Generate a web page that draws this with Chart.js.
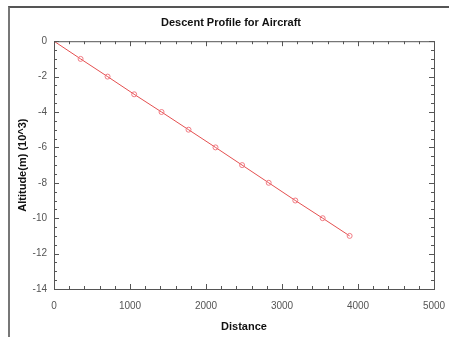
<!DOCTYPE html>
<html>
<head>
<meta charset="utf-8">
<script src="https://cdn.jsdelivr.net/npm/chart.js@4"></script>
<style>
    body { margin: 0; background: #fff; }
    #wrap { position: relative; width: 449px; height: 337px; }
    #frame { position: absolute; left: 8px; top: 6px; right: 0; bottom: 0; border-top: 2px solid #555; border-left: 2px solid #777; }
    canvas { position: absolute; left: 0; top: 0; }
</style>
</head>
<body>
<div id="wrap">
    <div id="frame"></div>
    <canvas id="descent-chart" width="449" height="337"></canvas>
</div>
<script>
// Descent profile readings
const distance = [0, 350, 705, 1055, 1415, 1770, 2125, 2475, 2825, 3175, 3535, 3890];
const altitude = [0, -1, -2, -3, -4, -5, -6, -7, -8, -9, -10, -11];
const xTicks = [0, 1000, 2000, 3000, 4000, 5000];
const yTicks = [0, -2, -4, -6, -8, -10, -12, -14];

const fontFamily = "'Liberation Sans Narrow', 'Liberation Sans', Arial, sans-serif";

// Draws the box round the plot plus inward major/minor ticks on all four sides
const axisBoxPlugin = {
    id: 'axisBox',
    afterDraw(chart) {
        const ctx = chart.ctx;
        const a = chart.chartArea;
        const xs = chart.scales.x;
        const ys = chart.scales.y;
        ctx.save();
        ctx.strokeStyle = '#555';
        ctx.lineWidth = 1;
        ctx.strokeRect(a.left + 0.5, a.top + 0.5, a.right - a.left, a.bottom - a.top);
        ctx.beginPath();
        for (let v = xs.min; v <= xs.max; v += 200) {
            const px = Math.round(xs.getPixelForValue(v)) + 0.5;
            const len = v % 1000 === 0 ? 5 : 3;
            ctx.moveTo(px, a.bottom);
            ctx.lineTo(px, a.bottom - len);
            ctx.moveTo(px, a.top);
            ctx.lineTo(px, a.top + len);
        }
        for (let v = ys.min; v <= ys.max; v += 0.5) {
            const py = Math.round(ys.getPixelForValue(v)) + 0.5;
            const len = v % 2 === 0 ? 5 : 3;
            ctx.moveTo(a.left, py);
            ctx.lineTo(a.left + len, py);
            ctx.moveTo(a.right, py);
            ctx.lineTo(a.right - len, py);
        }
        ctx.stroke();
        ctx.restore();
    }
};

const ctx = document.getElementById('descent-chart').getContext('2d');
new Chart(ctx, {
    type: 'scatter',
    data: {
        datasets: [{
            label: 'Descent',
            data: distance.map((d, i) => ({ x: d, y: altitude[i] })),
            showLine: true,
            borderColor: 'rgb(228, 80, 80)',
            borderWidth: 1,
            pointRadius: ctx => ctx.dataIndex === 0 ? 0 : 2.5,
            pointBorderColor: 'rgba(240, 110, 120, 0.9)',
            pointBackgroundColor: 'rgba(255, 255, 255, 0)',
            pointBorderWidth: 1
        }]
    },
    options: {
        responsive: false,
        animation: false,
        layout: {
            padding: { left: 13, right: 0, top: 14, bottom: 3 }
        },
        plugins: {
            legend: { display: false },
            tooltip: { enabled: false },
            title: {
                display: true,
                text: 'Descent Profile for Aircraft',
                color: '#111',
                font: { family: fontFamily, size: 11, weight: 'bold' },
                padding: { top: 2, bottom: 12 }
            }
        },
        scales: {
            x: {
                type: 'linear',
                min: 0,
                max: 5000,
                afterBuildTicks: scale => { scale.ticks = xTicks.map(v => ({ value: v })); },
                afterFit: scale => { scale.height = 45; scale.paddingRight = 15; scale.paddingLeft = 0; },
                grid: { display: false, drawTicks: false },
                border: { display: false },
                ticks: {
                    color: '#555',
                    padding: 11,
                    maxRotation: 0,
                    font: { family: fontFamily, size: 10 },
                    callback: value => String(value)
                },
                title: {
                    display: true,
                    text: 'Distance',
                    color: '#111',
                    font: { family: fontFamily, size: 11, weight: 'bold' },
                    padding: { top: 6, bottom: 0 }
                }
            },
            y: {
                type: 'linear',
                min: -14,
                max: 0,
                afterBuildTicks: scale => { scale.ticks = yTicks.map(v => ({ value: v })); },
                afterFit: scale => { scale.width = 41; },
                grid: { display: false, drawTicks: false },
                border: { display: false },
                ticks: {
                    color: '#555',
                    padding: 7,
                    font: { family: fontFamily, size: 10 },
                    callback: value => String(value)
                },
                title: {
                    display: true,
                    text: 'Altitude(m) (10^3)',
                    color: '#111',
                    font: { family: fontFamily, size: 11, weight: 'bold' },
                    padding: { top: 3, bottom: 0 }
                }
            }
        }
    },
    plugins: [axisBoxPlugin]
});
</script>
</body>
</html>
